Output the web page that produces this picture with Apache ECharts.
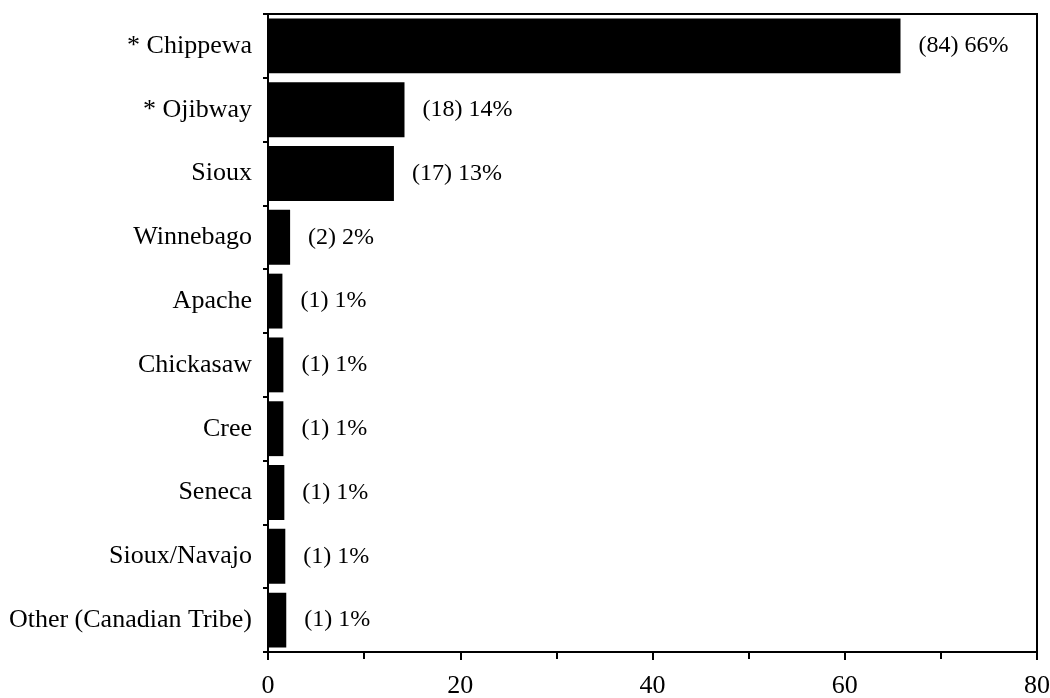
<!DOCTYPE html>
<html><head><meta charset="utf-8">
<script src="https://cdn.jsdelivr.net/npm/echarts@6/dist/echarts.min.js"></script>
<style>html,body{margin:0;padding:0;background:#fff}#c{width:1050px;height:698px}</style>
</head><body><div id="c"></div>
<script>
const categories = ['* Chippewa','* Ojibway','Sioux','Winnebago','Apache','Chickasaw','Cree','Seneca','Sioux/Navajo','Other (Canadian Tribe)'];
const barValues = [65.8, 14.2, 13.1, 2.3, 1.5, 1.6, 1.6, 1.7, 1.8, 1.9];
const counts = [84, 18, 17, 2, 1, 1, 1, 1, 1, 1];
const percents = [66, 14, 13, 2, 1, 1, 1, 1, 1, 1];
const xTicks = [0, 20, 40, 60, 80];

const font = '"Liberation Serif", "DejaVu Serif", serif';
const chart = echarts.init(document.getElementById('c'));
chart.setOption({
  animation: false,
  backgroundColor: '#fff',
  grid: { left: 268, right: 13, top: 14, bottom: 46, show: true, borderColor: '#000', borderWidth: 2, backgroundColor: 'transparent', outerBoundsMode: 'none', containLabel: false },
  xAxis: {
    type: 'value', min: xTicks[0], max: xTicks[xTicks.length-1], interval: 20,
    axisLine: { show: true, lineStyle: { color: '#000', width: 2 } },
    axisTick: { show: true, length: 8, lineStyle: { color: '#000', width: 2 } },
    minorTick: { show: true, splitNumber: 2, length: 7, lineStyle: { color: '#000', width: 2 } },
    splitLine: { show: false },
    axisLabel: { color: '#000', fontFamily: font, fontSize: 26, margin: 21 }
  },
  yAxis: {
    type: 'category', data: categories, inverse: true,
    axisLine: { show: true, lineStyle: { color: '#000', width: 2 } },
    axisTick: { show: true, length: 5, lineStyle: { color: '#000', width: 2 } },
    axisLabel: { color: '#000', fontFamily: font, fontSize: 26, margin: 16 }
  },
  series: [{
    type: 'bar', data: barValues, barCategoryGap: '14%',
    itemStyle: { color: '#000' },
    label: {
      show: true, position: 'right', distance: 18, color: '#000', fontFamily: font, fontSize: 24,
      formatter: p => '(' + counts[p.dataIndex] + ') ' + percents[p.dataIndex] + '%'
    }
  }]
});
</script></body></html>
